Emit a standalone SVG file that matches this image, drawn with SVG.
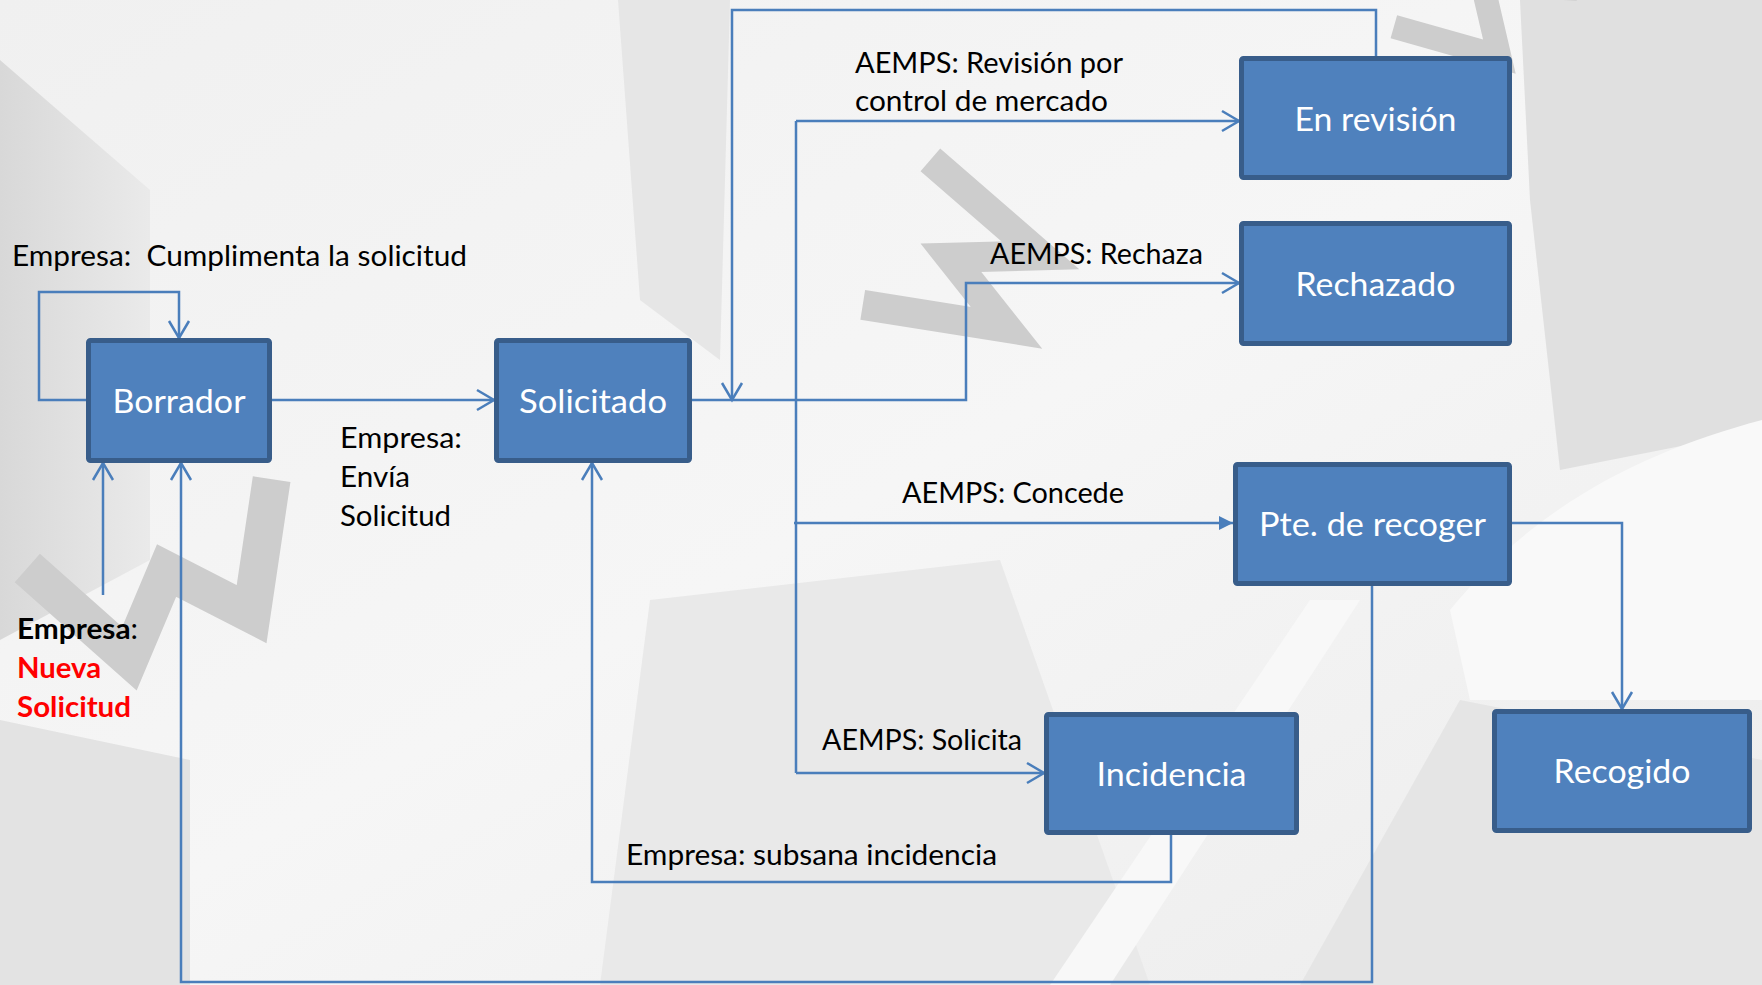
<svg xmlns="http://www.w3.org/2000/svg" width="1762" height="985" viewBox="0 0 1762 985">
  <style>
    .box { fill: #4F81BD; stroke: #385D8A; stroke-width: 5; }
    .btxt { font-family: Lato, "Open Sans", "Liberation Sans", sans-serif; font-size: 32px; fill: #FFFFFF; text-anchor: middle; }
    .lbl { font-family: Lato, "Open Sans", "Liberation Sans", sans-serif; font-size: 29px; fill: #000000; }
    .red { fill: #FF0000; font-weight: bold; }
    .conn { fill: none; stroke: #4A7EBB; stroke-width: 2.5; }
    .arr { marker-end: url(#open); }
    .bgw { fill: none; stroke: #cdcdcd; stroke-linejoin: miter; stroke-miterlimit: 10; }
  </style>
  <defs>
    <marker id="open" markerUnits="userSpaceOnUse" markerWidth="22" markerHeight="24" refX="19" refY="12" orient="auto">
      <path d="M2,2 L19,12 L2,22" fill="none" stroke="#4A7EBB" stroke-width="2.5"/>
    </marker>
    <marker id="filled" markerUnits="userSpaceOnUse" markerWidth="16" markerHeight="20" refX="14" refY="10" orient="auto">
      <path d="M0,3 L14,10 L0,17 Z" fill="#4A7EBB"/>
    </marker>
    <linearGradient id="bgGrad" x1="0" y1="0" x2="1" y2="1">
      <stop offset="0" stop-color="#f0f0f0"/>
      <stop offset="0.5" stop-color="#f6f6f6"/>
      <stop offset="1" stop-color="#ececec"/>
    </linearGradient>
    <linearGradient id="gSide" x1="0" y1="0" x2="1" y2="0">
      <stop offset="0" stop-color="#d8d8d8"/>
      <stop offset="1" stop-color="#eaeaea"/>
    </linearGradient>
  </defs>

  <g id="background">
    <rect x="0" y="0" width="1762" height="985" fill="url(#bgGrad)"/>
    <polygon points="0,60 150,190 150,560 0,640" fill="url(#gSide)"/>
    <polygon points="0,720 190,760 190,985 0,985" fill="#e3e3e3"/>
    <polygon points="618,0 730,0 720,360 640,300" fill="#e6e6e6"/>
    <polygon points="1520,0 1762,0 1762,430 1560,470 1530,200" fill="#e0e0e0"/>
    <path d="M1450,610 C1540,500 1650,450 1762,420 L1762,700 L1470,700 Z" fill="#f9f9f9"/>
    <polygon points="1300,985 1460,700 1762,760 1762,985" fill="#e5e5e5"/>
    <polygon points="650,600 1000,560 1150,985 600,985" fill="#e9e9e9"/>
    <polygon points="1050,985 1110,985 1360,600 1310,600" fill="#f8f8f8"/>
    <polyline class="bgw" stroke-width="30" transform="translate(960,262) rotate(-65)" points="-80,-70 -40,70 0,-10 40,70 80,-70"/>
    <polyline class="bgw" stroke-width="38" transform="translate(170,580) rotate(-20)" points="-130,-60 -65,60 0,-10 65,60 130,-60"/>
    <polyline class="bgw" stroke-width="24" transform="translate(1490,-10) rotate(-50)" points="-90,-50 -45,50 0,-10 45,50 90,-50"/>
  </g>

  <g id="connectors">
    <path class="conn arr" d="M86,400 H39 V292 H179 V338"/>
    <path class="conn arr" d="M272,400 H494"/>
    <path class="conn arr" d="M103,595 V463"/>
    <path class="conn arr" d="M1372,586 V982 H181 V463"/>
    <path class="conn arr" d="M1171,835 V882 H592 V463"/>
    <path class="conn arr" d="M692,400 H966 V283 H1239"/>
    <path class="conn arr" d="M1376,56 V10 H732 V400"/>
    <path class="conn" d="M796,121 V773"/>
    <path class="conn arr" d="M796,121 H1239"/>
    <path class="conn" d="M794,523 H1233" marker-end="url(#filled)"/>
    <path class="conn arr" d="M796,773 H1044"/>
    <path class="conn arr" d="M1512,523 H1622 V709"/>
  </g>

  <g id="node-borrador">
    <rect class="box" x="88.5" y="340.5" width="181" height="120" rx="2"/>
    <text class="btxt" x="179" y="413" textLength="133" lengthAdjust="spacingAndGlyphs">Borrador</text>
  </g>
  <g id="node-solicitado">
    <rect class="box" x="496.5" y="340.5" width="193" height="120" rx="2"/>
    <text class="btxt" x="593" y="413" textLength="148" lengthAdjust="spacingAndGlyphs">Solicitado</text>
  </g>
  <g id="node-en-revision">
    <rect class="box" x="1241.5" y="58.5" width="268" height="119" rx="2"/>
    <text class="btxt" x="1375.5" y="131" textLength="162" lengthAdjust="spacingAndGlyphs">En revisión</text>
  </g>
  <g id="node-rechazado">
    <rect class="box" x="1241.5" y="223.5" width="268" height="120" rx="2"/>
    <text class="btxt" x="1375.5" y="296" textLength="160" lengthAdjust="spacingAndGlyphs">Rechazado</text>
  </g>
  <g id="node-pte-recoger">
    <rect class="box" x="1235.5" y="464.5" width="274" height="119" rx="2"/>
    <text class="btxt" x="1372.5" y="536" textLength="227" lengthAdjust="spacingAndGlyphs">Pte. de recoger</text>
  </g>
  <g id="node-incidencia">
    <rect class="box" x="1046.5" y="714.5" width="250" height="118" rx="2"/>
    <text class="btxt" x="1171.5" y="786" textLength="150" lengthAdjust="spacingAndGlyphs">Incidencia</text>
  </g>
  <g id="node-recogido">
    <rect class="box" x="1494.5" y="711.5" width="255" height="119" rx="2"/>
    <text class="btxt" x="1622" y="783" textLength="137" lengthAdjust="spacingAndGlyphs">Recogido</text>
  </g>

  <g id="labels">
    <text class="lbl" x="12" y="266" textLength="455" lengthAdjust="spacingAndGlyphs" xml:space="preserve">Empresa:  Cumplimenta la solicitud</text>
    <text class="lbl" x="340" y="448" textLength="122" lengthAdjust="spacingAndGlyphs">Empresa:</text>
    <text class="lbl" x="340" y="487" textLength="70" lengthAdjust="spacingAndGlyphs">Envía</text>
    <text class="lbl" x="340" y="526" textLength="111" lengthAdjust="spacingAndGlyphs">Solicitud</text>
    <text class="lbl" x="855" y="73" textLength="268" lengthAdjust="spacingAndGlyphs">AEMPS: Revisión por</text>
    <text class="lbl" x="855" y="111" textLength="253" lengthAdjust="spacingAndGlyphs">control de mercado</text>
    <text class="lbl" x="990" y="264" textLength="213" lengthAdjust="spacingAndGlyphs">AEMPS: Rechaza</text>
    <text class="lbl" x="902" y="503" textLength="222" lengthAdjust="spacingAndGlyphs">AEMPS: Concede</text>
    <text class="lbl" x="822" y="750" textLength="200" lengthAdjust="spacingAndGlyphs">AEMPS: Solicita</text>
    <text class="lbl" x="626" y="865" textLength="371" lengthAdjust="spacingAndGlyphs">Empresa: subsana incidencia</text>
    <text class="lbl" x="17" y="639" textLength="121" lengthAdjust="spacingAndGlyphs"><tspan font-weight="bold">Empresa</tspan>:</text>
    <text class="lbl red" x="17" y="678" textLength="84" lengthAdjust="spacingAndGlyphs">Nueva</text>
    <text class="lbl red" x="17" y="717" textLength="114" lengthAdjust="spacingAndGlyphs">Solicitud</text>
  </g>
</svg>
